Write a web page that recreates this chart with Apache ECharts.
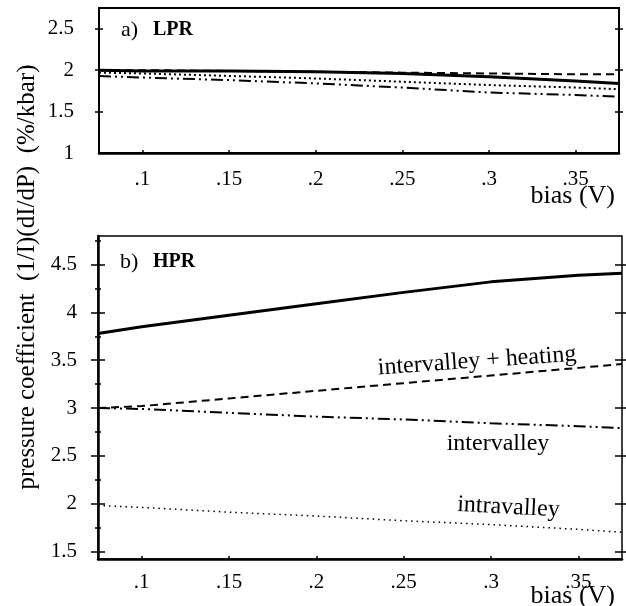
<!DOCTYPE html>
<html>
<head>
<meta charset="utf-8">
<script src="https://cdn.jsdelivr.net/npm/echarts@6.0.0/dist/echarts.min.js"></script>
<style>
  html, body { margin: 0; padding: 0; background: #fff; }
  #main { width: 626px; height: 606px; }
</style>
</head>
<body>
<div id="main"></div>
<script>
    // bias values (V) shared by both panels
    var bias = [0.075, 0.1, 0.15, 0.2, 0.25, 0.3, 0.35, 0.375];
    var biasTicks = [0.1, 0.15, 0.2, 0.25, 0.3, 0.35];

    // a) LPR
    var lprTicks = [1, 1.5, 2, 2.5];
    var lprTotal = [2.0, 1.99, 1.99, 1.98, 1.96, 1.92, 1.87, 1.84];
    var lprHeating = [2.0, 2.0, 1.99, 1.98, 1.97, 1.96, 1.95, 1.95];
    var lprIntra = [1.97, 1.96, 1.93, 1.90, 1.86, 1.82, 1.79, 1.77];
    var lprInter = [1.93, 1.91, 1.88, 1.84, 1.79, 1.73, 1.70, 1.68];

    // b) HPR
    var hprTicks = [1.5, 2, 2.5, 3, 3.5, 4, 4.5];
    var hprMinor = [1.75, 2.25, 2.75, 3.25, 3.75, 4.25, 4.75];
    var hprTotal = [3.78, 3.85, 3.97, 4.09, 4.21, 4.32, 4.39, 4.41];
    var hprHeating = [3.0, 3.02, 3.10, 3.18, 3.26, 3.34, 3.42, 3.46];
    var hprInter = [3.0, 2.99, 2.95, 2.91, 2.88, 2.84, 2.81, 2.79];
    var hprIntra = [1.98, 1.96, 1.91, 1.87, 1.82, 1.78, 1.73, 1.70];

    var FONT = 'Liberation Serif';

    function pairs(vals) {
        var res = [];
        for (var i = 0; i < bias.length; i++) {
            res.push([bias[i], vals[i]]);
        }
        return res;
    }

    function fmtBias(v) {
        return String(+v.toFixed(3)).replace(/^0/, '');
    }

    // bare y axis used only to draw a set of ticks
    function tickAxis(grid, min, max, pos, vals, len, inside) {
        return {
            type: 'value', gridIndex: grid, min: min, max: max, position: pos,
            axisLine: { show: false },
            splitLine: { show: false },
            axisLabel: { show: false },
            axisTick: {
                show: true, inside: inside, length: len, customValues: vals,
                lineStyle: { color: '#000', width: 1.5 }
            }
        };
    }

    function xAx(grid, margin) {
        return {
            type: 'value', gridIndex: grid, min: 0.075, max: 0.375,
            axisLine: { show: true, onZero: false, lineStyle: { color: '#000', width: 2.5 } },
            splitLine: { show: false },
            axisTick: { show: true, inside: true, length: 3, customValues: biasTicks,
                lineStyle: { color: '#000', width: 1.5 } },
            axisLabel: { customValues: biasTicks, formatter: fmtBias, color: '#000',
                fontFamily: FONT, fontSize: 21, margin: margin }
        };
    }

    function line(xi, yi, vals, width, type) {
        return {
            type: 'line', xAxisIndex: xi, yAxisIndex: yi, data: pairs(vals),
            showSymbol: false, symbol: 'none', silent: true,
            lineStyle: { color: '#000', width: width, type: type }
        };
    }

    function note(text, x, y, rot) {
        return {
            symbol: 'circle', symbolSize: 0, silent: true,
            itemStyle: { color: 'transparent' },
            label: { show: true, position: 'inside', color: '#000', fontFamily: FONT,
                fontSize: 24, rotate: rot, formatter: text },
            data: [{ coord: [x, y] }]
        };
    }

    var mainTop = {
        type: 'value', gridIndex: 0, min: 1, max: 2.75, position: 'left',
        axisLine: { show: false },
        splitLine: { show: false },
        axisTick: { show: true, length: 4, customValues: [1.5, 2, 2.5],
            lineStyle: { color: '#000', width: 1.5 } },
        axisLabel: { customValues: lprTicks, color: '#000', fontFamily: FONT,
            fontSize: 21, margin: 25 }
    };

    var mainBot = {
        type: 'value', gridIndex: 1, min: 1.42, max: 4.8, position: 'left',
        axisLine: { show: true, lineStyle: { color: '#000', width: 2.5 } },
        splitLine: { show: false },
        axisTick: { show: true, length: 7, customValues: hprTicks,
            lineStyle: { color: '#000', width: 1.5 } },
        axisLabel: { customValues: hprTicks, color: '#000', fontFamily: FONT,
            fontSize: 21, margin: 21 }
    };

    var heatingBot = line(1, 4, hprHeating, 2, [8, 5]);
    heatingBot.markPoint = note('intervalley + heating', 0.292, 3.49, 4);
    var interBot = line(1, 4, hprInter, 2, [12, 4, 2, 4, 2, 4]);
    interBot.markPoint = note('intervalley', 0.304, 2.63, 0);
    var intraBot = line(1, 4, hprIntra, 1.5, [1.5, 4]);
    intraBot.markPoint = note('intravalley', 0.31, 1.96, -3);

    var option = {
        backgroundColor: '#fff',
        animation: false,
        grid: [
            { left: 99, top: 8, width: 520, height: 145, show: true,
              borderColor: '#000', borderWidth: 2 },
            { left: 98, top: 236, width: 524, height: 323, show: true,
              borderColor: '#000', borderWidth: 1.5 }
        ],
        xAxis: [xAx(0, 16), xAx(1, 13)],
        yAxis: [
            mainTop,
            tickAxis(0, 1, 2.75, 'left', [1.5, 2, 2.5], 4, true),
            tickAxis(0, 1, 2.75, 'right', [1.5, 2, 2.5], 4, false),
            tickAxis(0, 1, 2.75, 'right', [1.5, 2, 2.5], 4, true),
            mainBot,
            tickAxis(1, 1.42, 4.8, 'left', hprTicks, 7, true),
            tickAxis(1, 1.42, 4.8, 'left', hprMinor, 3, false),
            tickAxis(1, 1.42, 4.8, 'left', hprMinor, 3, true),
            tickAxis(1, 1.42, 4.8, 'right', hprTicks, 7, false),
            tickAxis(1, 1.42, 4.8, 'right', hprTicks, 7, true)
        ],
        graphic: [
            { type: 'text', x: 121, y: 30, style: { text: 'a)', fontFamily: FONT, fontSize: 22,
                fill: '#000', verticalAlign: 'middle' } },
            { type: 'text', x: 153, y: 30, style: { text: 'LPR', fontFamily: FONT, fontSize: 20,
                fontWeight: 'bold', fill: '#000', verticalAlign: 'middle' } },
            { type: 'text', x: 120, y: 262, style: { text: 'b)', fontFamily: FONT, fontSize: 22,
                fill: '#000', verticalAlign: 'middle' } },
            { type: 'text', x: 153, y: 262, style: { text: 'HPR', fontFamily: FONT, fontSize: 20,
                fontWeight: 'bold', fill: '#000', verticalAlign: 'middle' } },
            { type: 'text', x: 615, y: 196, style: { text: 'bias (V)', fontFamily: FONT, fontSize: 26,
                fill: '#000', align: 'right', verticalAlign: 'middle' } },
            { type: 'text', x: 615, y: 596, style: { text: 'bias (V)', fontFamily: FONT, fontSize: 26,
                fill: '#000', align: 'right', verticalAlign: 'middle' } },
            { type: 'text', x: 27, y: 277, rotation: Math.PI / 2,
              style: { text: 'pressure coefficient  (1/I)(dI/dP)  (%/kbar)', fontFamily: FONT,
                fontSize: 25, fill: '#000', align: 'center', verticalAlign: 'middle' } }
        ],
        series: [
            line(0, 0, lprInter, 2, [12, 4, 2, 4, 2, 4]),
            line(0, 0, lprIntra, 2, [2, 3]),
            line(0, 0, lprHeating, 2, [8, 5]),
            line(0, 0, lprTotal, 3, 'solid'),
            intraBot,
            interBot,
            heatingBot,
            line(1, 4, hprTotal, 3, 'solid')
        ]
    };

    var chart = echarts.init(document.getElementById('main'));
    chart.setOption(option);
</script>
</body>
</html>
